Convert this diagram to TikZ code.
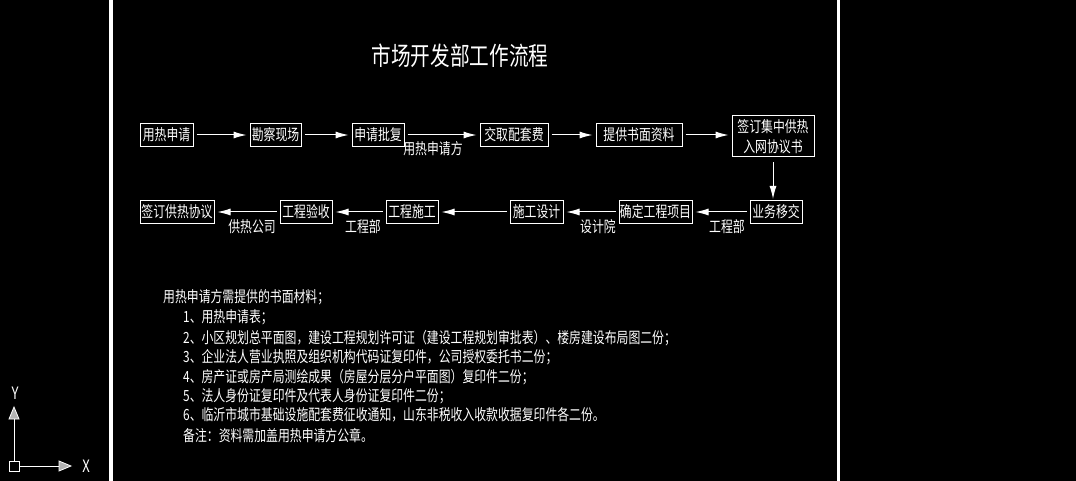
\documentclass[tikz,border=0pt]{standalone}
\usepackage{fontspec}
\newfontfamily\cjk[FakeStretch=0.77]{Noto Sans CJK SC}
\usetikzlibrary{arrows.meta}
\begin{document}
\begin{tikzpicture}[x=1pt,y=-1pt,
  txt/.style={text=white, inner sep=0pt, font=\cjk\fontsize{15.4}{19.5}\selectfont},
  box/.style={txt, draw=white, line width=1pt, minimum height=23pt},
  lbl/.style={txt},
  para/.style={txt, anchor=west},
  flow/.style={draw=white, line width=1pt, -{Latex[length=13pt,width=7pt]}, shorten <=3pt, shorten >=3pt},
  axis/.style={draw=white, line width=0.8pt}]
\fill[black] (0,0) rectangle (1076,481);
\useasboundingbox (0,0) rectangle (1076,481);
\fill[white] (108.5,0) rectangle (112.5,481);
\fill[white] (837,0) rectangle (840,481);

% title
\node[txt, font=\cjk\fontsize{25.5}{28}\selectfont] (title) at (460,56) {市场开发部工作流程};

% row 1
\node[box, minimum width=53pt] (n1) at (166.5,135) {用热申请};
\node[box, minimum width=51pt] (n2) at (275.5,135) {勘察现场};
\node[box, minimum width=52pt] (n3) at (378,135) {申请批复};
\node[box, minimum width=68pt] (n4) at (514,135) {交取配套费};
\node[box, minimum width=86pt] (n5) at (639,135) {提供书面资料};
\node[box, minimum width=82pt, minimum height=41pt, align=center] (n6) at (773,136.5) {签订集中供热\\入网协议书};

% row 2
\node[box, minimum width=52pt] (m1) at (776,212) {业务移交};
\node[box, minimum width=73pt] (m2) at (655.5,212) {确定工程项目};
\node[box, minimum width=53pt] (m3) at (536.5,212) {施工设计};
\node[box, minimum width=52pt] (m4) at (412,212) {工程施工};
\node[box, minimum width=52pt] (m5) at (306,212) {工程验收};
\node[box, minimum width=74pt] (m6) at (177,212) {签订供热协议};

% connectors
\draw[flow] (n1) -- (n2);
\draw[flow] (n2) -- (n3);
\draw[flow] (n3) -- (n4);
\draw[flow] (n4) -- (n5);
\draw[flow] (n5) -- (n6.west |- n5.east);
\draw[flow, shorten <=5pt, shorten >=1pt] (n6.south) -- (n6.south |- m1.north);
\draw[flow] (m1) -- (m2);
\draw[flow] (m2) -- (m3);
\draw[flow] (m3) -- (m4);
\draw[flow] (m4) -- (m5);
\draw[flow] (m5) -- (m6);

% connector labels
\node[lbl] (l1) at (433,149) {用热申请方};
\node[lbl] (l2) at (727,227) {工程部};
\node[lbl] (l3) at (598,227) {设计院};
\node[lbl] (l4) at (363,227) {工程部};
\node[lbl] (l5) at (252,227) {供热公司};

% notes
\node[para] (p0) at (163,297) {用热申请方需提供的书面材料；};
\node[para] (p1) at (183,317) {1、用热申请表；};
\node[para] (p2) at (183,338) {2、小区规划总平面图，建设工程规划许可证（建设工程规划审批表）、楼房建设布局图二份；};
\node[para] (p3) at (183,357) {3、企业法人营业执照及组织机构代码证复印件，公司授权委托书二份；};
\node[para] (p4) at (183,377) {4、房产证或房产局测绘成果（房屋分层分户平面图）复印件二份；};
\node[para] (p5) at (183,396) {5、法人身份证复印件及代表人身份证复印件二份；};
\node[para] (p6) at (183,415) {6、临沂市城市基础设施配套费征收通知，山东非税收入收款收据复印件各二份。};
\node[para] (p7) at (183,436) {备注：资料需加盖用热申请方公章。};

% UCS icon
\draw[axis] (9,461) rectangle (19,471);
\draw[axis] (14,461) -- (14,419);
\draw[axis, fill=gray!60] (9,419) -- (19,419) -- (14,407) -- cycle;
\draw[axis] (19,466) -- (59,466);
\draw[axis, fill=gray!60] (59,461) -- (59,471) -- (71,466) -- cycle;
\node[txt, font=\cjk\fontsize{17}{19}\selectfont] (ylab) at (15,393) {Y};
\node[txt, font=\cjk\fontsize{17}{19}\selectfont] (xlab) at (86,466) {X};
\end{tikzpicture}
\end{document}
